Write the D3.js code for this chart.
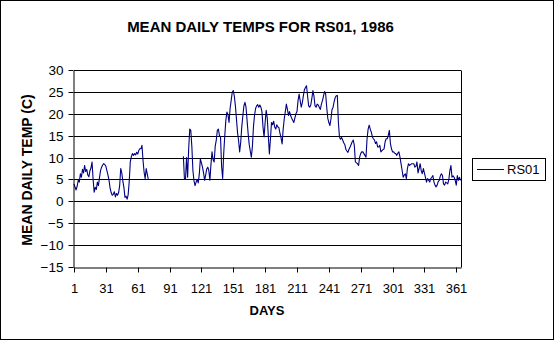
<!DOCTYPE html>
<html>
<head>
<meta charset="utf-8">
<script src="https://cdn.jsdelivr.net/npm/d3@7/dist/d3.min.js"></script>
<style>
  html, body { margin: 0; padding: 0; background: #fff; }
  svg { display: block; font-family: "Liberation Sans", Arial, sans-serif; }
</style>
</head>
<body>
<svg id="chart" width="554" height="340"></svg>
<script>
// ---- data ----
const title = "MEAN DAILY TEMPS FOR RS01, 1986";
const xTitle = "DAYS";
const yTitle = "MEAN DAILY TEMP (C)";
const seriesName = "RS01";
const xTickLabels = [1, 31, 61, 91, 121, 151, 181, 211, 241, 271, 301, 331, 361];
const yTickLabels = [-15, -10, -5, 0, 5, 10, 15, 20, 25, 30];
const days = d3.range(1, 366);
const temps = [
  4.0, 3.2, 2.6, 3.5, 4.8, 4.4, 6.3, 5.5, 7.3, 6.5,
  8.2, 6.8, 7.3, 6.0, 5.6, 7.0, 7.6, 9.0, 5.0, 2.1,
  3.2, 2.7, 4.4, 3.6, 5.4, 7.0, 7.8, 8.3, 8.6, 8.4,
  8.0, 7.0, 6.0, 4.8, 3.0, 2.0, 1.4, 1.6, 2.2, 1.0,
  1.8, 1.4, 2.0, 3.6, 7.5, 6.5, 4.6, 3.2, 0.9, 1.2,
  0.5, 1.5, 4.5, 9.0, 10.2, 10.9, 10.5, 10.9, 10.6, 11.2,
  10.8, 11.6, 12.0, 12.0, 12.8, 9.4, 6.7, 5.2, 7.5, 6.2,
  5.0, null, null, null, null, null, null, null, null, null,
  null, null, null, null, null, null, null, null, null, null,
  null, null, null, null, null, null, null, null, null, null,
  null, null, null, 10.3, 5.1, 5.0, 10.0, 5.5, 12.0, 16.5,
  16.2, 12.5, 7.0, 4.7, 3.6, 4.4, 5.0, 4.2, 6.2, 9.7,
  8.8, 7.8, 6.5, 4.8, 6.0, 7.4, 7.8, 7.0, 4.8, 8.5,
  11.3, 9.5, 9.0, 12.6, 14.0, 16.2, 16.5, 15.0, 14.7, 8.0,
  5.2, 11.0, 15.0, 18.5, 20.4, 19.8, 18.0, 21.2, 23.0, 24.9,
  25.3, 24.0, 21.8, 18.8, 15.7, 13.9, 11.3, 13.5, 17.0, 19.5,
  21.8, 22.6, 21.5, 18.5, 15.5, 13.0, 11.5, 10.1, 12.5, 17.0,
  19.6, 21.2, 21.8, 22.1, 21.5, 22.0, 21.5, 20.5, 17.0, 14.7,
  18.0, 20.8, 19.0, 15.0, 10.8, 14.2, 18.0, 17.5, 18.3, 17.0,
  16.5, 17.5, 17.0, 16.8, 15.5, 14.5, 13.1, 16.5, 18.8, 20.5,
  22.2, 21.0, 19.6, 20.5, 19.6, 19.0, 18.5, 18.0, 19.0, 20.0,
  20.5, 23.0, 24.5, 23.0, 21.5, 22.5, 24.1, 25.5, 26.0, 26.4,
  24.0, 21.8, 21.5, 22.0, 23.5, 25.3, 24.0, 21.8, 21.5, 22.2,
  22.0, 21.5, 21.0, 22.2, 23.0, 24.1, 25.1, 24.5, 21.5, 19.0,
  18.0, 17.3, 18.8, 21.0, 21.5, 22.8, 23.7, 24.1, 24.2, 18.0,
  14.7, 14.2, 14.6, 14.0, 13.4, 13.0, 11.9, 11.5, 11.2, 11.9,
  12.4, 13.0, 13.6, 14.0, 12.8, 9.0, 8.8, 8.6, 8.2, 10.1,
  10.9, 11.3, 11.3, 10.9, 10.5, 10.1, 14.3, 16.5, 17.4, 16.5,
  15.8, 14.7, 14.3, 14.0, 13.2, 13.6, 12.4, 12.4, 12.8, 11.3,
  11.6, 11.8, 12.0, 13.6, 14.3, 14.3, 15.1, 16.2, 13.2, 12.0,
  11.3, 11.3, 11.0, 10.9, 10.5, 11.0, 11.3, 10.1, 8.6, 7.1,
  5.5, 6.0, 6.3, 5.2, 7.5, 8.6, 8.2, 8.4, 8.6, 8.6,
  8.6, 7.8, 8.0, 9.0, 6.5, 7.5, 8.6, 7.0, 6.3, 7.5,
  6.5, 5.5, 4.4, 5.2, 4.8, 4.4, 5.2, 5.5, 5.9, 4.4,
  3.7, 3.3, 3.7, 4.5, 4.8, 5.8, 6.3, 5.9, 4.0, 3.7,
  4.4, 4.2, 4.0, 5.0, 7.0, 8.2, 5.5, 5.8, 5.5, 4.8,
  3.7, 5.9, 4.8, 5.5, 4.8
];

// ---- layout ----
const W = 554, H = 340;
const plot = { left: 74, right: 461, top: 70, bottom: 267 };
const svg = d3.select("#chart");

svg.append("rect").attr("x", 0.5).attr("y", 0.5).attr("width", W - 1).attr("height", H - 1)
  .attr("fill", "#fff").attr("stroke", "#000");

const x = d3.scaleLinear().domain([1, 365]).range([plot.left, plot.right - 0.5]);
const y = d3.scaleLinear().domain([-15, 30]).range([plot.bottom, plot.top]);
const snap = v => Math.round(v) + 0.5;

// gridlines
svg.append("g").selectAll("line").data(yTickLabels.filter(v => v > -15)).join("line")
  .attr("x1", plot.left).attr("x2", plot.right)
  .attr("y1", d => snap(y(d))).attr("y2", d => snap(y(d)))
  .attr("stroke", "#000").attr("stroke-width", 1);

// plot border (right side)
svg.append("line").attr("x1", plot.right + 0.5).attr("x2", plot.right + 0.5)
  .attr("y1", snap(y(30))).attr("y2", snap(y(-15))).attr("stroke", "#000");

// series line
const line = d3.line()
  .defined(d => d.v != null)
  .x(d => x(d.d))
  .y(d => y(d.v));
const pts = days.map((d, i) => ({ d, v: temps[i] }));
svg.append("path").datum(pts).attr("d", line)
  .attr("fill", "none").attr("stroke", "#000080").attr("stroke-width", 1.1)
  .attr("stroke-linejoin", "round");

// y axis
const yAxis = d3.axisLeft(y).tickValues(yTickLabels).tickSize(5).tickSizeOuter(0).tickPadding(5)
  .tickFormat(d3.format("d"));
const gy = svg.append("g").attr("transform", `translate(${plot.left - 0.5},0.5)`).call(yAxis);
gy.selectAll("text").attr("font-size", 13.5).attr("fill", "#000").attr("font-family", "Liberation Sans, Arial, sans-serif");
gy.selectAll("line, path").attr("stroke", "#000");
gy.selectAll(".tick").attr("transform", d => `translate(0,${Math.round(y(d))})`);

// x axis
const xAxis = d3.axisBottom(x).tickValues(xTickLabels).tickSize(5).tickSizeOuter(0).tickPadding(11)
  .tickFormat(d3.format("d"));
const gx = svg.append("g").attr("transform", `translate(0.5,${snap(y(-15))})`).call(xAxis);
gx.selectAll("text").attr("font-size", 13).attr("fill", "#000").attr("font-family", "Liberation Sans, Arial, sans-serif");
gx.selectAll("line, path").attr("stroke", "#000");
gx.selectAll(".tick").attr("transform", d => `translate(${Math.round(x(d))},0)`);

// title
svg.append("text").attr("x", 260.5).attr("y", 32).attr("text-anchor", "middle")
  .attr("font-size", 15).attr("font-weight", "bold").text(title);

// axis titles
svg.append("text").attr("x", 267).attr("y", 315).attr("text-anchor", "middle")
  .attr("font-size", 13).attr("font-weight", "bold").text(xTitle);
svg.append("text").attr("transform", "translate(32,170) rotate(-90)").attr("text-anchor", "middle")
  .attr("font-size", 14).attr("font-weight", "bold").text(yTitle);

// legend
const lg = svg.append("g");
lg.append("rect").attr("x", 472.5).attr("y", 158.5).attr("width", 73).attr("height", 22)
  .attr("fill", "#fff").attr("stroke", "#000");
lg.append("line").attr("x1", 477).attr("x2", 504).attr("y1", 169.5).attr("y2", 169.5)
  .attr("stroke", "#000080").attr("stroke-width", 1);
lg.append("text").attr("x", 507).attr("y", 174).attr("font-size", 13).text(seriesName);
</script>
</body>
</html>
